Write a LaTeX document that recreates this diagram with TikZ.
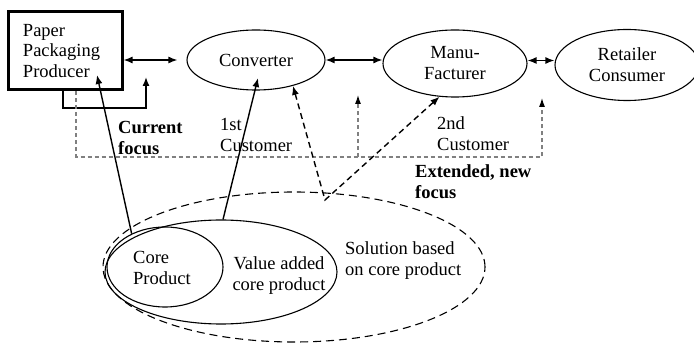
\documentclass[tikz,border=0pt]{standalone}
\usepackage{fontspec}
\setmainfont{Liberation Serif}
\usetikzlibrary{shapes.geometric,arrows.meta,calc}
\begin{document}
\begin{tikzpicture}[x=1pt,y=-1pt,
  txt/.style={font=\fontsize{18.5}{21}\selectfont, inner sep=0pt},
  btxt/.style={font=\fontsize{18.5}{21}\selectfont\bfseries, inner sep=0pt, align=left, anchor=west},
  ell/.style={draw, ellipse, line width=1.1pt, inner sep=0pt, font=\fontsize{18.5}{21}\selectfont, align=center},
  con/.style={line width=1.4pt, -{Latex[length=9pt,width=7pt]}},
  dcon/.style={line width=1.4pt, {Latex[length=9pt,width=7pt]}-{Latex[length=9pt,width=7pt]}},
  gdash/.style={gray, line width=1.1pt, dash pattern=on 4pt off 3pt, -{Latex[length=9pt,width=6pt,color=black]}},
  bdash/.style={line width=1.4pt, dash pattern=on 6pt off 4pt},
]
\useasboundingbox (0,0) rectangle (694,344);
% top row
\node[draw, line width=3pt, minimum width=114pt, minimum height=78pt, text width=84pt, align=left,
  font=\fontsize{18.5}{20.5}\selectfont, inner sep=0pt] (box) at (65,51) {Paper\\Packaging\\Producer};
\node[ell, minimum width=138pt, minimum height=60pt] (conv) at (256,60) {Converter};
\node[ell, minimum width=144pt, minimum height=67pt] (manu) at (455,63.5) {Manu-\\Facturer};
\node[ell, minimum width=144pt, minimum height=71pt] (ret) at (627,65) {Retailer\\Consumer};
% bottom ellipses
\node[draw, ellipse, line width=1.1pt, dash pattern=on 8pt off 5pt, minimum width=382pt, minimum height=150pt] (sol) at (294,267) {};
\node[draw, ellipse, line width=1.1pt, minimum width=232pt, minimum height=104pt] (val) at (221,272) {};
\node[draw, ellipse, line width=1.1pt, minimum width=116pt, minimum height=80pt] (core) at (165,267) {};
\node[txt, align=left, anchor=west] (coret) at (133,267.5) {Core\\Product};
\node[txt, align=center] (valt) at (279,276) {Value added\\core product};
\node[txt, align=left, anchor=west] (solt) at (345,261) {Solution based\\on core product};
% labels
\node[btxt] (cf) at (118,137.5) {Current\\focus};
\node[txt, align=left, anchor=west] (c1) at (220,135) {1st\\Customer};
\node[txt, align=left, anchor=west] (c2) at (437,134) {2nd\\Customer};
\node[btxt] (ef) at (415,182) {Extended, new\\focus};
% horizontal links
\draw[dcon, shorten >=9pt] (conv.west -| box.east) -- (conv.west);
\draw[dcon] (conv.east) -- (conv.east -| manu.west);
\draw[dcon] ([yshift=3pt]manu.east) -- ([yshift=3pt]manu.east -| ret.west);
% producer loop
\coordinate (l1) at (146,108);
\coordinate (l2) at (146,77);
\draw[con] ([xshift=-2pt]box.south) |- (l1) -- (l2);
% gray dashed focus lines
\coordinate (g1) at (542,157);
\coordinate (g2) at (542,98);
\coordinate (g3) at (358,157);
\coordinate (g4) at (358,95);
\draw[gdash] ([xshift=11pt]box.south) |- (g1) -- (g2);
\draw[gdash] (g3) -- (g4);
% product arrows
\draw[con] (core.135) -- ([xshift=32pt,yshift=-24pt]box.center);
\draw[con] ([xshift=2pt]val.north) -- ([xshift=2pt,yshift=-18pt]conv.center);
\coordinate (v) at (325,200);
\draw[bdash, {Latex[length=9pt,width=7pt]}-{Latex[length=9pt,width=7pt]}] (conv.-35) -- (v) -- (manu.-115);
\end{tikzpicture}
\end{document}
